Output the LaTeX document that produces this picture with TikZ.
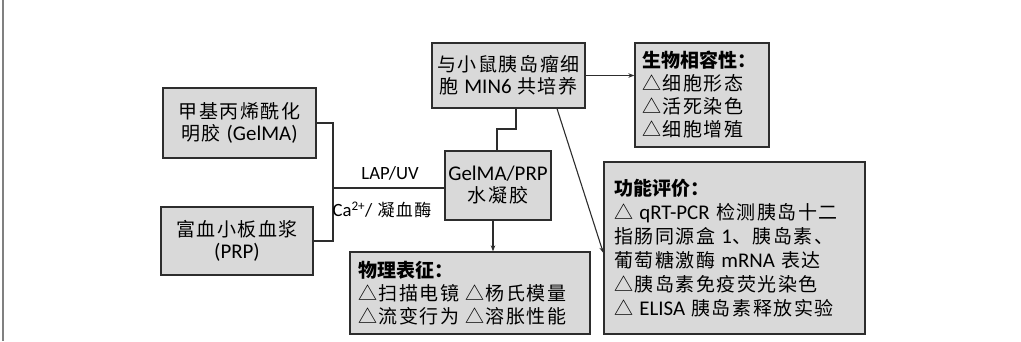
\documentclass[tikz,border=0pt]{standalone}
\usepackage{fontspec}
\setmainfont{Noto Sans CJK SC}[LetterSpace=8]
\newfontfamily\lat{Carlito}[Scale=1.1]
\usetikzlibrary{arrows.meta}
\definecolor{boxfill}{RGB}{217,217,217}
\definecolor{edgecol}{RGB}{45,45,45}
\newcommand\hd[1]{{\bfseries\addfontfeatures{LetterSpace=0} #1}}
\begin{document}
\begin{tikzpicture}[x=1pt,y=-1pt,
  box/.style={draw=edgecol, line width=1.3pt, fill=boxfill, inner sep=0pt, align=center,
    font=\fontsize{19}{22}\selectfont},
  listbox/.style={draw=edgecol, line width=1.3pt, fill=boxfill, inner ysep=0pt, align=left},
  conn/.style={draw=edgecol, line width=1.1pt},
  arr/.style={conn, -{Stealth[length=6pt,width=4.5pt]}},
  lab/.style={font=\fontsize{17}{19}\selectfont, inner sep=0pt}]
\useasboundingbox (0,0) rectangle (1021,341);
\draw[gray, line width=1.5pt] (3,0) -- (3,341);

\node[box, minimum width=153pt, minimum height=70pt] (gelma) at (239.5,123)
  {甲基丙烯酰化\\明胶 {\lat (GelMA)}};
\node[box, minimum width=152pt, minimum height=68pt] (prp) at (237,241)
  {富血小板血浆\\{\lat (PRP)}};
\node[box, minimum width=106pt, minimum height=69pt] (hydro) at (498,185.5)
  {{\lat GelMA/PRP}\\水凝胶};
\node[box, minimum width=153pt, minimum height=65pt] (cocult) at (508.5,75.5)
  {与小鼠胰岛瘤细\\胞 {\lat MIN6} 共培养};
\node[listbox, inner xsep=7pt, text width=120pt, minimum height=104pt,
  font=\fontsize{19}{23}\selectfont] (bio) at (702,95)
  {\hd{生物相容性：}\\△细胞形态\\△活死染色\\△细胞增殖};
\node[listbox, inner xsep=10pt, text width=241pt, minimum height=172pt,
  font=\fontsize{19}{24}\selectfont] (func) at (734.5,248)
  {\hd{功能评价：}\\△ {\lat qRT-PCR} 检测胰岛十二\\指肠同源盒 {\lat 1}、胰岛素、\\葡萄糖激酶 {\lat mRNA} 表达\\△胰岛素免疫荧光染色\\△ {\lat ELISA} 胰岛素释放实验};
\node[listbox, inner xsep=8pt, text width=224pt, minimum height=82pt,
  font=\fontsize{19}{23}\selectfont] (phys) at (470,293)
  {\hd{物理表征：}\\△扫描电镜 △杨氏模量\\△流变行为 △溶胀性能};

\coordinate (j) at (333,188);
\draw[conn] (gelma.east) -| (j);
\draw[conn] (prp.east) -| (j);
\draw[conn] (j) -- (j -| hydro.west);
\node[lab] (l1) at (390,173) {\lat LAP/UV};
\node[lab] (l2) at (382,210) {{\lat Ca\textsuperscript{2+}/} 凝血酶};

\coordinate (k1) at (516,129);
\coordinate (k2) at (497,129);
\draw[conn] (k1 |- cocult.south) -- (k1) -- (k2) -- (k2 |- hydro.north);
\draw[arr] (cocult.east) -- (cocult.east -| bio.west);
\coordinate (d1) at (557,0);
\coordinate (d2) at (0,253);
\draw[arr] (d1 |- cocult.south) -- (func.west |- d2);
\coordinate (d3) at (493,0);
\draw[arr] (d3 |- hydro.south) -- (d3 |- phys.north);
\end{tikzpicture}
\end{document}
